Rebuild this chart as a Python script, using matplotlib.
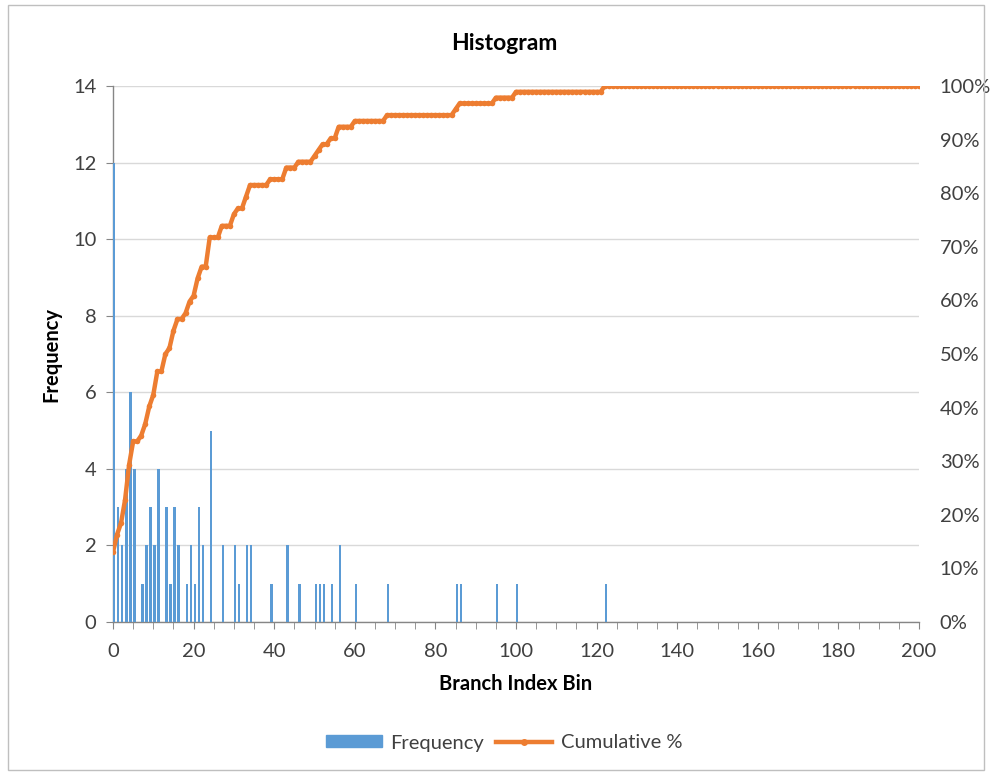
import numpy as np
import matplotlib
matplotlib.use("Agg")
import matplotlib.pyplot as plt
from matplotlib.ticker import MultipleLocator, FuncFormatter
from matplotlib.lines import Line2D
from matplotlib.patches import Patch, Rectangle

# ---- data ----
bin_values = [0, 1, 2, 3, 4, 5, 7, 8, 9, 10, 11, 13, 14, 15, 16, 18, 19, 20, 21, 22,
              24, 27, 30, 31, 33, 34, 39, 43, 46, 50, 51, 52, 54, 56, 60, 68,
              85, 86, 95, 100, 122]
frequencies = [12, 3, 2, 4, 6, 4, 1, 2, 3, 2, 4, 3, 1, 3, 2, 1, 2, 1, 3, 2,
               5, 2, 2, 1, 2, 2, 1, 2, 1, 1, 1, 1, 1, 2, 1, 1,
               1, 1, 1, 1, 1]
bin_max = 200
x_ticks = [0, 20, 40, 60, 80, 100, 120, 140, 160, 180, 200]
left_ticks = [0, 2, 4, 6, 8, 10, 12, 14]
right_ticks = [0, 0.1, 0.2, 0.3, 0.4, 0.5, 0.6, 0.7, 0.8, 0.9, 1.0]

# full bin table (all integer bins) and cumulative percentage
all_bins = np.arange(0, bin_max + 1)
freq_full = np.zeros_like(all_bins, dtype=float)
for b, f in zip(bin_values, frequencies):
    freq_full[b] = f
cum_pct = np.cumsum(freq_full) / freq_full.sum()

BLUE = "#5B9BD5"
ORANGE = "#ED7D31"
GRID = "#D9D9D9"
AXIS = "#868686"
TXT = "#404040"

plt.rcParams['font.family'] = ['Lato', 'DejaVu Sans']

fig = plt.figure(figsize=(9.92, 7.74), dpi=100)
ax = fig.add_axes([113/992, 1 - 622/774, (919 - 113)/992, (622 - 86)/774])

ax.bar(bin_values, frequencies, width=0.6, align='edge', color=BLUE, zorder=3)
ax.set_xlim(0, bin_max)
ax.set_ylim(0, 14)
ax.set_yticks(left_ticks)
ax.set_xticks(x_ticks)
ax.xaxis.set_minor_locator(MultipleLocator(5))
ax.grid(axis='y', color=GRID, linewidth=1, zorder=0)
ax.set_axisbelow(True)
for s in ['top', 'right']:
    ax.spines[s].set_visible(False)
for s in ['left', 'bottom']:
    ax.spines[s].set_color(AXIS)
    ax.spines[s].set_linewidth(1)
    ax.spines[s].set_zorder(2)
ax.tick_params(axis='x', which='both', direction='out', length=5, color=AXIS,
               labelsize=14.5, labelcolor=TXT, pad=10)
ax.tick_params(axis='y', which='both', direction='out', length=5, color=AXIS,
               labelsize=14.5, labelcolor=TXT, pad=7)

ax2 = ax.twinx()
ax2.plot(all_bins, cum_pct, color=ORANGE, linewidth=3.2, marker='o',
         markersize=4, markeredgewidth=0, zorder=3)
ax2.set_ylim(0, 1)
ax2.set_yticks(right_ticks)
ax2.yaxis.set_major_formatter(FuncFormatter(lambda v, p: f"{v*100:.0f}%"))
for s in ['top', 'left', 'bottom', 'right']:
    ax2.spines[s].set_visible(False)
ax2.tick_params(axis='y', length=0, labelsize=14.5, labelcolor=TXT, pad=15)

ax.set_xlabel("Branch Index Bin", fontsize=14.5, fontweight='bold', color='black', labelpad=10)
ax.set_ylabel("Frequency", fontsize=14.5, fontweight='bold', color='black', labelpad=8)
fig.text(0.508, 1 - 44/774, "Histogram", ha='center', va='center',
         fontsize=16.5, fontweight='bold', color='black')

handles = [Patch(facecolor=BLUE, edgecolor=BLUE),
           Line2D([0], [0], color=ORANGE, linewidth=3.2, marker='o', markersize=4)]
fig.legend(handles, ["Frequency", "Cumulative %"], loc='center',
           bbox_to_anchor=(0.508, 1 - 743/774), ncol=2, frameon=False,
           fontsize=14.5, handlelength=2.8, handleheight=0.55, handletextpad=0.4,
           columnspacing=0.6, labelcolor=TXT)

fig.patches.append(Rectangle((8/992, 4/774), 976/992, 765/774, transform=fig.transFigure,
                             fill=False, edgecolor='#BFBFBF', linewidth=1))

fig.savefig("out.png", dpi=100, facecolor='white')
